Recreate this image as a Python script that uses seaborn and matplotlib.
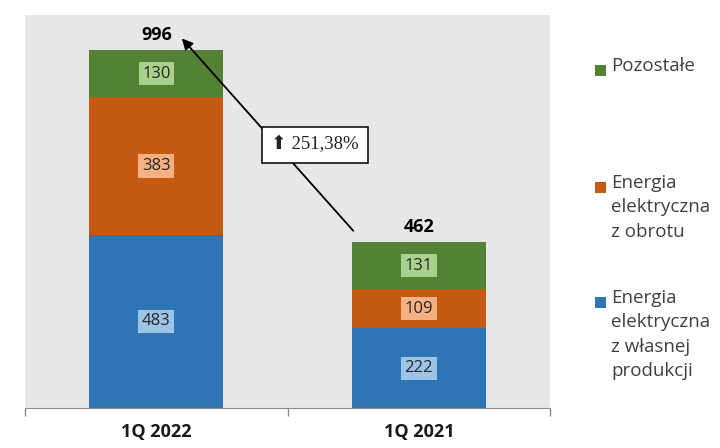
import numpy as np
import pandas as pd
import matplotlib
matplotlib.use("Agg")
import matplotlib.pyplot as plt
import seaborn as sns
from matplotlib.patches import Rectangle

quarters = ["1Q 2022", "1Q 2021"]
own_production = [483, 222]
traded = [383, 109]
other = [130, 131]
change_label = "\u2b06 251,38%"

series_names = ["Pozostałe", "Energia\nelektryczna\nz obrotu", "Energia\nelektryczna\nz własnej\nprodukcji"]
dark = {"blue": "#2e75b6", "orange": "#c55a11", "green": "#548235"}
light = {"blue": "#9dc3e6", "orange": "#f4b183", "green": "#a9d18e"}

sns.set_style("white")
plt.rcParams["font.family"] = ["Open Sans", "DejaVu Sans"]

df = pd.DataFrame({"quarter": quarters, "own": own_production, "traded": traded, "other": other})
df["lvl2"] = df["own"] + df["traded"]
df["total"] = df["lvl2"] + df["other"]

fig = plt.figure(figsize=(7.2, 4.48), dpi=100)
ax = fig.add_axes([0.035, 0.089, 0.729, 0.878])
ax.set_facecolor("#e7e7e7")

bw = 0.51
# stacked bars: draw cumulative heights from top layer down
for col, c in [("total", "green"), ("lvl2", "orange"), ("own", "blue")]:
    sns.barplot(data=df, x="quarter", y=col, color=dark[c], width=bw, saturation=1,
                linewidth=0, ax=ax)

ax.set_xlim(-0.5, 1.5)
ax.set_ylim(0, 1095)
ax.set_xlabel("")
ax.set_ylabel("")
ax.set_yticks([])

# segment labels
for i, row in df.iterrows():
    segs = [(row["own"] / 2, row["own"], "blue"),
            (row["own"] + row["traded"] / 2, row["traded"], "orange"),
            (row["lvl2"] + row["other"] / 2, row["other"], "green")]
    for y, v, c in segs:
        ax.text(i, y, str(v), ha="center", va="center", fontsize=12, color="#262626",
                bbox=dict(boxstyle="square,pad=0.22", facecolor=light[c], edgecolor="none"))
    ax.text(i, row["total"] + 18, str(row["total"]), ha="center", va="bottom",
            fontsize=13, fontweight="bold", color="black")

# growth arrow
ax.annotate("", xy=(0.09, 1035), xytext=(0.757, 488),
            arrowprops=dict(arrowstyle="-|>", color="black", lw=1.3, mutation_scale=16))
ax.text(0.605, 733, change_label, ha="center", va="center", fontsize=13.5,
        family=["Liberation Serif", "DejaVu Sans"], color="#222222",
        bbox=dict(boxstyle="square,pad=0.5", facecolor="white", edgecolor="black", lw=1.1))

# axis styling
for s in ["top", "right", "left"]:
    ax.spines[s].set_visible(False)
ax.spines["bottom"].set_color("#8c8c8c")
ax.tick_params(axis="x", which="major", length=0, pad=11)
ax.set_xticks([-0.5, 0.5, 1.5], minor=True)
ax.tick_params(axis="x", which="minor", bottom=True, length=6, width=1,
               color="#8c8c8c", direction="out")
for lbl in ax.get_xticklabels():
    lbl.set_fontweight("bold")
    lbl.set_fontsize(13)
    lbl.set_color("#1a1a1a")

# legend drawn manually (handle aligned to first text line)
legend_items = [(series_names[0], dark["green"], 70),
                (series_names[1], dark["orange"], 187),
                (series_names[2], dark["blue"], 302)]
for name, col, ypx in legend_items:
    yf = 1 - ypx / 448
    fig.patches.append(Rectangle((595 / 720, yf - 6 / 448), 11 / 720, 11 / 448,
                                 transform=fig.transFigure, facecolor=col, edgecolor="none"))
    fig.text(611 / 720, yf + 13 / 448, name, ha="left", va="top", fontsize=13.5,
             color="#404040", linespacing=1.45)

fig.savefig("out.png", dpi=100)
